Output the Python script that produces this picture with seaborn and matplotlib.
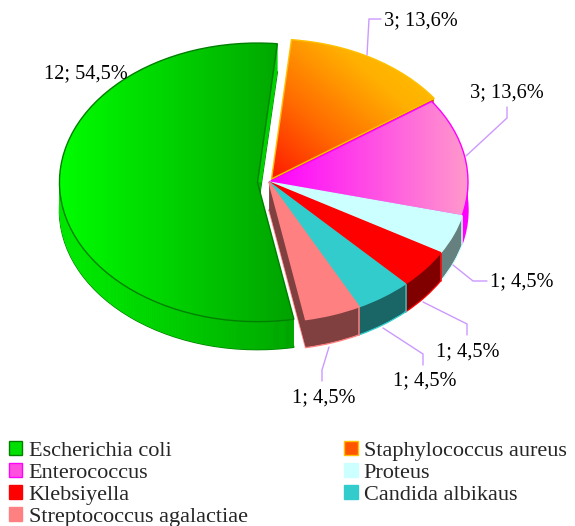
import numpy as np
import seaborn as sns
import matplotlib.pyplot as plt
from matplotlib.patches import Patch

species = ['Escherichia coli', 'Staphylococcus aureus', 'Enterococcus', 'Proteus',
           'Klebsiyella', 'Candida albikaus', 'Streptococcus agalactiae']
counts = [12, 3, 3, 1, 1, 1, 1]
value_labels = ['12; 54,5%', '3; 13,6%', '3; 13,6%', '1; 4,5%', '1; 4,5%', '1; 4,5%', '1; 4,5%']

top_colors = ['#00d000', '#ff6600', '#ff60e0', '#ccffff', '#ff0000', '#33cccc', '#ff8080']
side_colors = ['#00c000', '#cc5500', '#ff00ff', '#668080', '#800000', '#1a6666', '#804040']
edge_colors = ['#008000', '#ffc000', '#ff00ff', '#ccffff', '#ff0000', '#33cccc', '#ff8080']
legend_faces = ['#00e000', '#ff5500', '#ff50e0', '#ccffff', '#ff0000', '#33cccc', '#ff8080']

explode = [0.058, 0.025, 0, 0, 0, 0, 0]
start_angle = -79.4
green_radius = 0.995

# pixel geometry of the tilted pie
W, H = 575, 526
cx, cy, rx, ry = 269, 182, 199, 140
depth_px = 28

sns.set_theme(style='white')
plt.rcParams['font.family'] = ['Liberation Serif', 'DejaVu Serif']

fig = plt.figure(figsize=(W / 100, H / 100), dpi=100)
ax = fig.add_axes([0, 0, 1, 1])
px = fig.add_axes([0, 0, 1, 1])

green_cmap = sns.blend_palette(['#00ff00', '#00a000'], as_cmap=True)
orange_cmap = sns.blend_palette(['#ff1500', '#ff6a00', '#ffb000', '#ffc800'], as_cmap=True)
magenta_cmap = sns.blend_palette(['#ff00ff', '#ff99cc'], as_cmap=True)

ramp = np.linspace(0, 1, 256)[None, :]
diag = (np.linspace(0, 1, 128)[None, :] + np.linspace(0, 1, 128)[:, None]) / 2


def gradient(wedge, data, cmap, box, z):
    im = ax.imshow(data, cmap=cmap, extent=box, origin='lower', aspect='auto',
                   vmin=0, vmax=1, zorder=z, interpolation='bilinear')
    im.set_clip_path(wedge)


green_box = (-1.07, 0.15, -1.3, 1.1)
green_low = (-1.07, 0.15, -1.3, 0.0)
green_high = (-1.07, 0.15, 0.0, 1.1)
magenta_box = (0, 1.0, -1.0, 1.0)
orange_box = (0, 0.85, 0, 1.05)

# side walls: the same pie stacked from the bottom up
for k in range(depth_px, 0, -1):
    z = depth_px - k + 1
    wedges, _ = ax.pie(counts, explode=explode, colors=side_colors, startangle=start_angle,
                       counterclock=False, center=(0, -k / ry), radius=1,
                       wedgeprops={'linewidth': 0})
    wedges[0].set_radius(green_radius)
    for i, w in enumerate(wedges):
        w.set_zorder(z)
        if k == depth_px:
            w.set_edgecolor(edge_colors[i])
            w.set_linewidth(1.0)
    gradient(wedges[0], ramp, green_cmap, green_low, z + 0.5)
    # the narrow wall along the upper cut is lit
    gradient(wedges[0], np.array([[0.3]]), green_cmap, green_high, z + 0.5)

# light seams between the walls of the small slices
angles = start_angle - np.cumsum(counts) / np.sum(counts) * 360
for i in range(2, 6):
    a = np.deg2rad(angles[i])
    x = np.cos(a)
    y = np.sin(a)
    ax.plot([x, x], [y, y - depth_px / ry], color=edge_colors[i + 1], lw=1.1, zorder=depth_px + 1)

# top faces
wedges, _ = ax.pie(counts, explode=explode, colors=top_colors, startangle=start_angle,
                   counterclock=False, center=(0, 0), radius=1,
                   wedgeprops={'linewidth': 1.0})
wedges[0].set_radius(green_radius)
top = depth_px + 2
for i, w in enumerate(wedges):
    w.set_edgecolor(edge_colors[i])
    w.set_zorder(top + 1 + i * 0.01)
gradient(wedges[0], ramp, green_cmap, green_box, top)
gradient(wedges[1], diag, orange_cmap, orange_box, top)
gradient(wedges[2], ramp, magenta_cmap, magenta_box, top)
for w in wedges[:3]:
    w.set_facecolor('none')

ax.set_aspect('auto')
ax.set_xlim(-cx / rx, (W - cx) / rx)
ax.set_ylim((cy - H) / ry, cy / ry)
ax.axis('off')

# overlay in pixel coordinates for leaders, labels and legend
px.set_xlim(0, W)
px.set_ylim(H, 0)
px.axis('off')
px.patch.set_alpha(0)

leaders = [
    ([367, 369, 381], [55, 19, 19]),
    ([466, 507, 507], [156, 118, 107]),
    ([453, 473, 487], [265, 281, 281]),
    ([423, 467, 467], [302, 324, 335]),
    ([383, 423, 423], [328, 354, 365]),
    ([329, 322, 322], [347, 370, 381]),
]
for xs, ys in leaders:
    px.plot(xs, ys, color='#cc99ff', lw=1.0, solid_joinstyle='miter')

label_x = [44, 384, 470, 490, 436, 393, 292]
label_y = [74, 21, 93, 282, 352, 381, 398]
for t, x, y in zip(value_labels, label_x, label_y):
    px.text(x, y, t, fontsize=14.7, color='black', ha='left', va='center')

handles = [Patch(facecolor=legend_faces[i], edgecolor=edge_colors[i], linewidth=1.0) for i in range(7)]
order = [0, 2, 4, 6, 1, 3, 5]
px.legend([handles[i] for i in order], [species[i] for i in order], ncol=2,
          loc='upper left', bbox_to_anchor=(9, 441), bbox_transform=px.transData,
          frameon=False, borderpad=0, borderaxespad=0, fontsize=16,
          handlelength=0.6, handleheight=0.6, handletextpad=0.28,
          labelspacing=0.09, columnspacing=4.35)

fig.savefig('out.png', dpi=100)
plt.close(fig)
